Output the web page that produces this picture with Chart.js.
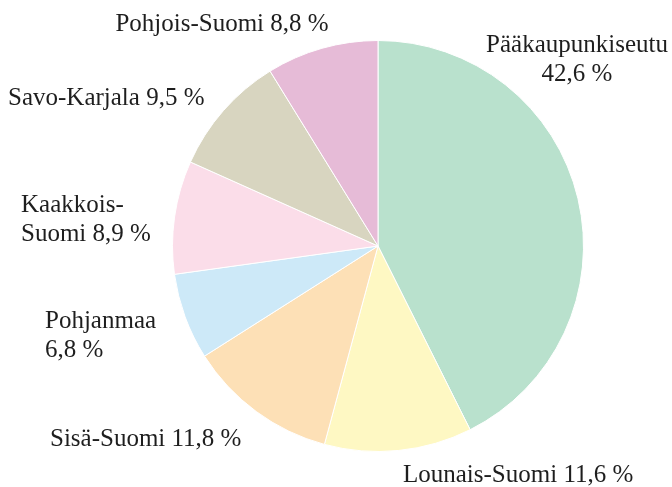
<!DOCTYPE html>
<html lang="fi">
  <head>
    <meta charset="UTF-8" />
    <title>Alueet</title>
    <script src="https://cdn.jsdelivr.net/npm/chart.js@4"></script>
    <style>
      html,
      body {
        margin: 0;
        padding: 0;
        background: #ffffff;
      }
      #wrap {
        width: 672px;
        height: 487px;
      }
    </style>
  </head>

  <body>
    <div id="wrap">
      <canvas id="chart"></canvas>
    </div>
  </body>

  <script>
    const regions = [
      "Pääkaupunkiseutu",
      "Lounais-Suomi",
      "Sisä-Suomi",
      "Pohjanmaa",
      "Kaakkois-Suomi",
      "Savo-Karjala",
      "Pohjois-Suomi",
    ];
    const shares = [42.6, 11.6, 11.8, 6.8, 8.9, 9.5, 8.8];
    const colors = [
      "#b9e1cd",
      "#fef8c3",
      "#fde0b6",
      "#cde9f8",
      "#fbdde9",
      "#d8d5c0",
      "#e6bbd7",
    ];

    // where each label sits, relative to the pie centre (x, baseline y, align, line break)
    const labelPlace = [
      [199, -194, "center", "name"],
      [25, 236, "left", ""],
      [-328, 200, "left", ""],
      [-333, 82, "left", "name"],
      [-357, -34, "left", "hyphen"],
      [-370, -141, "left", ""],
      [-156, -215, "center", ""],
    ];

    function labelLines(i) {
      const val = shares[i].toFixed(1).replace(".", ",") + " %";
      const name = regions[i];
      const mode = labelPlace[i][3];
      if (mode === "name") return [name, val];
      if (mode === "hyphen") {
        const k = name.indexOf("-") + 1;
        return [name.slice(0, k), name.slice(k) + " " + val];
      }
      return [name + " " + val];
    }

    const outsideLabels = {
      id: "outsideLabels",
      afterDraw(chart) {
        const ctx = chart.ctx;
        const arc = chart.getDatasetMeta(0).data[0];
        ctx.save();
        ctx.font = '25px "Liberation Serif", serif';
        ctx.fillStyle = "#1e1e1e";
        ctx.textBaseline = "alphabetic";
        labelPlace.forEach((p, i) => {
          ctx.textAlign = p[2];
          labelLines(i).forEach((line, j) => {
            ctx.fillText(line, arc.x + p[0], arc.y + p[1] + j * 29);
          });
        });
        ctx.restore();
      },
    };

    const chart = new Chart(document.getElementById("chart"), {
      type: "pie",
      data: {
        labels: regions,
        datasets: [
          {
            data: shares,
            backgroundColor: colors,
            borderColor: "#ffffff",
            borderWidth: 1,
          },
        ],
      },
      options: {
        responsive: true,
        maintainAspectRatio: false,
        animation: false,
        layout: {
          padding: { top: 40, bottom: 35, left: 84, right: 0 },
        },
        plugins: {
          legend: { display: false },
          tooltip: { enabled: false },
        },
      },
      plugins: [outsideLabels],
    });
  </script>
</html>
